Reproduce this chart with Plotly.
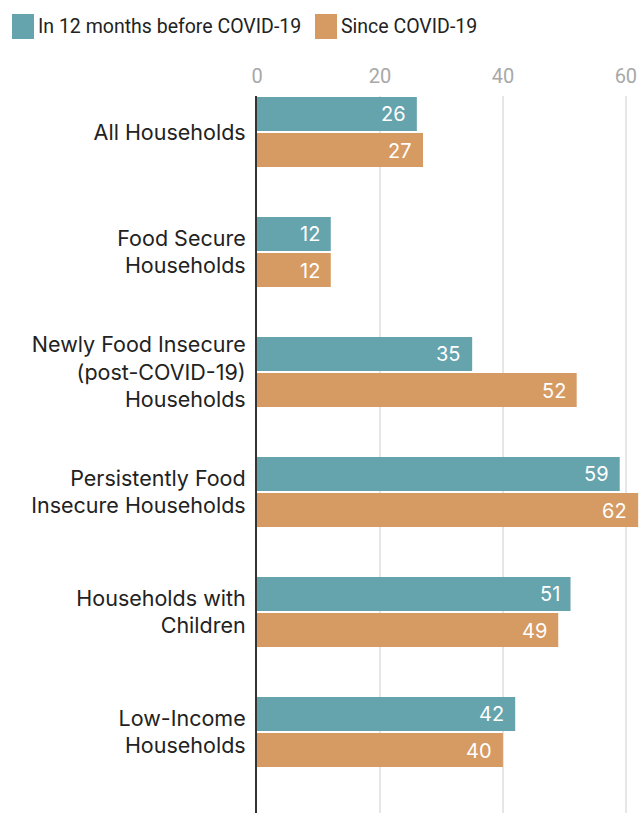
import plotly.graph_objects as go

categories = ["All Households", "Food Secure<br>Households",
              "Newly Food Insecure<br>(post-COVID-19)<br>Households",
              "Persistently Food<br>Insecure Households",
              "Households with<br>Children", "Low-Income<br>Households"]
before = [26, 12, 35, 59, 51, 42]
since = [27, 12, 52, 62, 49, 40]
series_names = ["In 12 months before COVID-19", "Since COVID-19"]
colors = ["#65a3ad", "#d69a63"]
x_ticks = [0, 20, 40, 60]

FONT = "Roboto"
CAT_FONT = "Inter"
fig = go.Figure()
for name, vals, col in zip(series_names, [before, since], colors):
    fig.add_trace(go.Bar(
        y=categories, x=vals, name=name, orientation="h",
        marker=dict(color=col, line=dict(width=0)),
        showlegend=False,
    ))

# value labels with right padding
for vals, shift in [(before, 18), (since, -19)]:
    for cat, v in zip(categories, vals):
        fig.add_annotation(x=v, y=cat, text=str(v), showarrow=False,
                           xanchor="right", yanchor="middle", xshift=-9, yshift=shift,
                           font=dict(family=CAT_FONT, size=20, color="white"))

fig.update_layout(
    width=644, height=813,
    margin=dict(l=257, r=4, t=96, b=0),
    paper_bgcolor="white", plot_bgcolor="white",
    barmode="group", bargap=0.4, bargroupgap=0.05,
    font=dict(family=FONT, size=20, color="#222222"),
    xaxis=dict(side="top", range=[0, 62.3], tickvals=x_ticks,
               showgrid=True, gridcolor="#e6e6e6", gridwidth=2,
               zeroline=False, showline=False,
               tickfont=dict(family=FONT, size=20, color="#a8a8a8"),
               ticks="outside", ticklen=4, tickcolor="rgba(0,0,0,0)"),
    yaxis=dict(range=[5.675, -0.3], showgrid=False, zeroline=False,
               showline=True, linecolor="#333333", linewidth=2,
               ticks="outside", ticklen=5, tickcolor="rgba(0,0,0,0)",
               tickfont=dict(family=CAT_FONT, size=21.5, color="#222222")),
)

# custom legend
plot_w = 644 - 257 - 4
plot_h = 813 - 96
leg_x = [12, 315]
for i, (name, col) in enumerate(zip(series_names, colors)):
    fig.add_shape(type="rect", xref="paper", yref="paper",
                  x0=(leg_x[i] - 257) / plot_w,
                  x1=(leg_x[i] + 22 - 257) / plot_w,
                  y0=1 + (96 - 39) / plot_h, y1=1 + (96 - 14) / plot_h,
                  fillcolor=col, line=dict(width=0))
    fig.add_annotation(xref="paper", yref="paper",
                       x=(leg_x[i] + 24 - 257) / plot_w,
                       y=1 + (96 - 26.5) / plot_h,
                       text=name, showarrow=False, xanchor="left", yanchor="middle",
                       font=dict(family=FONT, size=19.5, color="#222222"))

fig.write_html("out.html")
